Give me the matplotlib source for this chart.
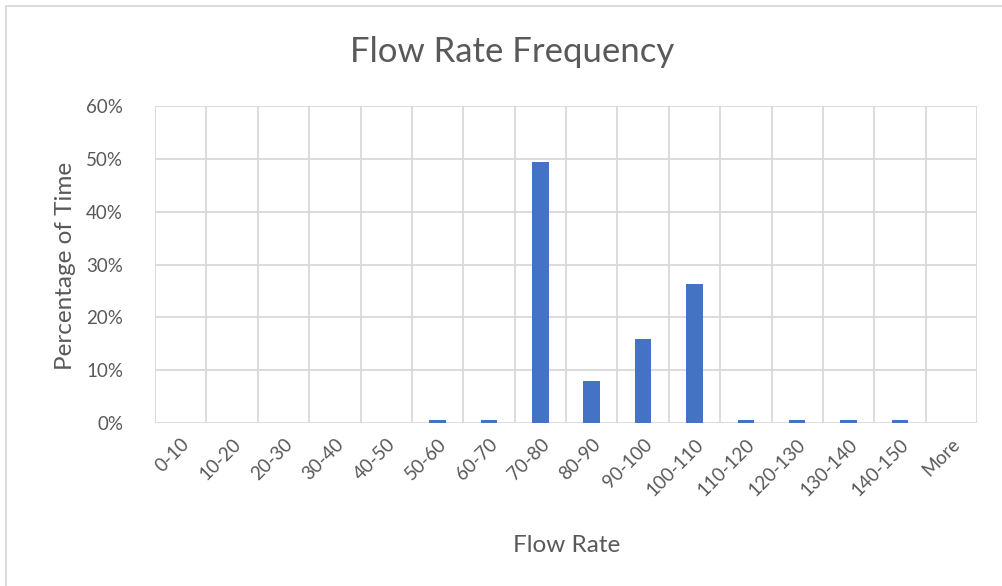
import matplotlib
matplotlib.use("Agg")
import matplotlib.pyplot as plt
from matplotlib.lines import Line2D
from matplotlib.ticker import FuncFormatter, MultipleLocator

categories = ["0-10", "10-20", "20-30", "30-40", "40-50", "50-60", "60-70", "70-80",
              "80-90", "90-100", "100-110", "110-120", "120-130", "130-140", "140-150", "More"]
percent = [0, 0, 0, 0, 0, 0.5, 0.5, 49.4, 7.9, 15.9, 26.3, 0.5, 0.5, 0.5, 0.5, 0]

plt.rcParams['font.family'] = ['Lato', 'DejaVu Sans']
txt = '#595959'
grid = '#d9d9d9'

W, H = 1002, 586
fig = plt.figure(figsize=(W/100, H/100), dpi=100)
ax = fig.add_axes([155/W, 1 - 423/H, (977-155)/W, (423-106)/H])

x = list(range(len(categories)))
ax.bar(x, percent, width=0.32, color='#4472c4', zorder=3)
ax.set_xlim(-0.5, len(categories) - 0.5)
ax.set_ylim(0, 60)
ax.yaxis.set_major_locator(MultipleLocator(10))
ax.yaxis.set_major_formatter(FuncFormatter(lambda v, p: f"{v:.0f}%"))

# vertical gridlines at category boundaries
for b in range(len(categories) + 1):
    ax.axvline(b - 0.5, color=grid, lw=1.3, zorder=1)
ax.grid(axis='y', color=grid, lw=1.3, zorder=1)

ax.set_xticks(x)
ax.set_xticklabels(categories, rotation=45, ha='right', rotation_mode='anchor')
ax.tick_params(axis='both', length=0, labelsize=13.5, colors=txt)
ax.tick_params(axis='y', pad=23)
ax.tick_params(axis='x', pad=9)
for s in ax.spines.values():
    s.set_visible(False)

fig.text(512/W, 1 - 52/H, "Flow Rate Frequency", fontsize=25, color=txt, ha='center', va='center')
fig.text(567/W, 1 - 545/H, "Flow Rate", fontsize=17.5, color=txt, ha='center', va='center')
fig.text(66/W, 1 - 266/H, "Percentage of Time", fontsize=17.5, color=txt, ha='center', va='center', rotation=90)

# chart border (top and left visible)
fig.add_artist(Line2D([6/W, 6/W], [0, 1 - 6/H], transform=fig.transFigure, color='#d9d9d9', lw=1.3))
fig.add_artist(Line2D([6/W, 1], [1 - 6/H, 1 - 6/H], transform=fig.transFigure, color='#d9d9d9', lw=1.3))

fig.savefig("out.png", dpi=100)
